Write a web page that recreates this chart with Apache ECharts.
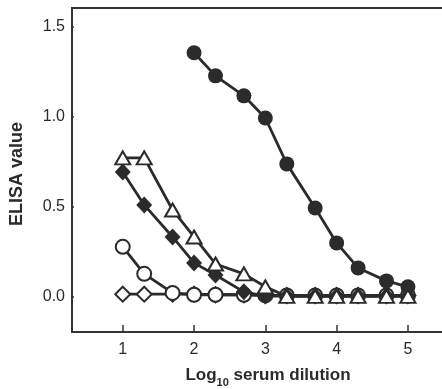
<!DOCTYPE html>
<html>
<head>
<meta charset="utf-8">
<script src="https://cdn.jsdelivr.net/npm/echarts@6/dist/echarts.min.js"></script>
<style>
html,body{margin:0;padding:0;background:#fff;}
#chart{width:442px;height:389px;}
</style>
</head>
<body>
<div id="chart"></div>
<script>
// log10 serum dilution (10, 20, 50, 100, ... 100000)
var dilutions = [1, 1.301, 1.699, 2, 2.301, 2.699, 3, 3.301, 3.699, 4, 4.301, 4.699, 5];
var filledCircles = [null, null, null, 1.356, 1.228, 1.117, 0.994, 0.739, 0.494, 0.300, 0.161, 0.089, 0.056];
var openTriangles = [0.772, 0.772, 0.483, 0.333, 0.183, 0.128, 0.056, 0.003, 0.003, 0.003, 0.003, 0.003, 0.003];
var filledDiamonds = [0.694, 0.511, 0.333, 0.189, 0.122, 0.028, 0.005, 0.005, 0.005, 0.005, 0.005, 0.005, 0.005];
var openCircles = [0.278, 0.128, 0.022, 0.012, 0.012, 0.012, 0.008, 0.008, 0.008, 0.008, 0.008, 0.008, 0.008];
var openDiamonds = [0.015, 0.015, 0.015, 0.015, 0.012, 0.012, 0.008, 0.008, 0.008, 0.008, 0.008, 0.008, 0.008];
var xTicks = [1, 2, 3, 4, 5];
var yTicks = [0, 0.5, 1.0, 1.5];

function pairs(ys) {
  var out = [];
  for (var i = 0; i < dilutions.length; i++) {
    if (ys[i] !== null) out.push([dilutions[i], ys[i]]);
  }
  return out;
}

var INK = '#2b2b2b';
var FONT = 'Liberation Sans, Arial, sans-serif';

function lineSeries(name, ys, symbol, size, filled) {
  return {
    name: name,
    type: 'line',
    data: pairs(ys),
    symbol: symbol,
    symbolSize: size,
    showAllSymbol: true,
    lineStyle: { color: INK, width: 2.8 },
    itemStyle: {
      color: filled ? INK : '#ffffff',
      borderColor: INK,
      borderWidth: filled ? 0 : 2
    },
    emphasis: { disabled: true },
    animation: false,
    z: 2
  };
}

var chart = echarts.init(document.getElementById('chart'), null, { renderer: 'canvas' });
chart.setOption({
  backgroundColor: '#ffffff',
  animation: false,
  grid: {
    left: 72, top: 8, right: -3, bottom: 57,
    show: true, borderColor: '#333333', borderWidth: 2,
    containLabel: false, outerBoundsMode: 'none'
  },
  xAxis: {
    type: 'value',
    min: 0.288, max: 5.52,
    splitLine: { show: false },
    axisLine: { show: true, onZero: false, lineStyle: { color: '#333333', width: 2 } },
    axisTick: { show: true, inside: true, length: 7, customValues: xTicks, lineStyle: { color: '#333333', width: 1.5 } },
    axisLabel: { customValues: xTicks, margin: 10, fontSize: 16, color: '#2b2b2b', fontFamily: FONT,
      formatter: function (v) { return String(Math.round(v)); } }
  },
  yAxis: {
    type: 'value',
    min: -0.195, max: 1.605,
    splitLine: { show: false },
    axisLine: { show: true, onZero: false, lineStyle: { color: '#333333', width: 2 } },
    axisTick: { show: true, inside: true, length: 2, customValues: yTicks, lineStyle: { color: '#333333', width: 1.5 } },
    axisLabel: { customValues: yTicks, margin: 7, fontSize: 16, color: '#2b2b2b', fontFamily: FONT,
      formatter: function (v) { return v.toFixed(1); } }
  },
  graphic: [
    {
      type: 'text',
      x: 268, y: 374,
      style: {
        text: '{a|Log}{b|10}{a| serum dilution}',
        rich: {
          a: { fontSize: 17, fontWeight: 'bold', fontFamily: FONT, fill: '#2b2b2b', verticalAlign: 'bottom', lineHeight: 20 },
          b: { fontSize: 11, fontWeight: 'bold', fontFamily: FONT, fill: '#2b2b2b', verticalAlign: 'bottom', lineHeight: 14, padding: [0, 0, -4, 0] }
        },
        align: 'center',
        verticalAlign: 'middle'
      }
    },
    {
      type: 'text',
      x: 17, y: 174,
      rotation: Math.PI / 2,
      style: {
        text: 'ELISA value',
        font: 'bold 18px Liberation Sans, Arial, sans-serif',
        fill: '#2b2b2b',
        align: 'center',
        verticalAlign: 'middle'
      }
    }
  ],
  series: [
    lineSeries('open diamonds', openDiamonds, 'diamond', [15, 15], false),
    lineSeries('open circles', openCircles, 'circle', 14, false),
    lineSeries('filled diamonds', filledDiamonds, 'diamond', [16, 17], true),
    lineSeries('filled circles', filledCircles, 'circle', 15, true),
    lineSeries('open triangles', openTriangles, 'triangle', [15, 13], false)
  ]
});
</script>
</body>
</html>
